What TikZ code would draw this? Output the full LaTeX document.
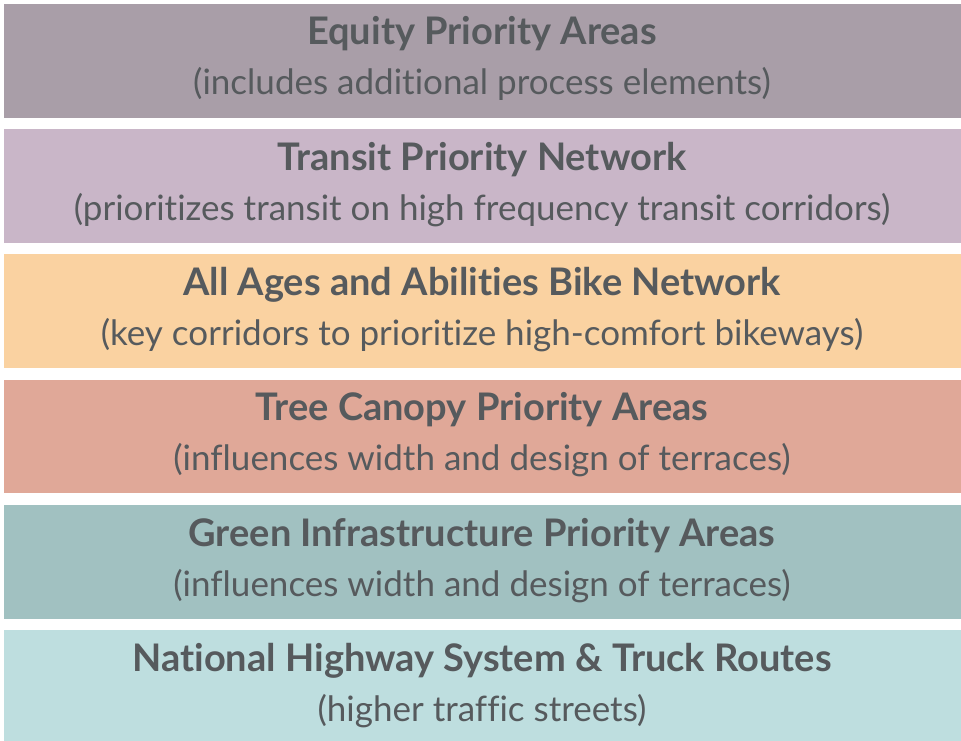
\documentclass[tikz,border=0pt]{standalone}
\usepackage{fontspec}
\setmainfont{Lato}[Ligatures=CommonOff]
\usepackage{xcolor}
\definecolor{txtgray}{HTML}{565A5D}
\definecolor{equitycol}{HTML}{A99EA8}
\definecolor{transitcol}{HTML}{C9B6C8}
\definecolor{bikecol}{HTML}{FAD2A1}
\definecolor{treecol}{HTML}{E0A898}
\definecolor{greencol}{HTML}{A1C1C1}
\definecolor{truckcol}{HTML}{BEDEDF}
\tikzset{
  band/.style={draw=none, fill=#1, minimum width=957pt, minimum height=113.7pt, inner sep=0pt, anchor=north west},
  headtext/.style={anchor=base, inner sep=0.75pt, text=txtgray, font=\fontsize{38}{44}\selectfont\bfseries},
  subtext/.style={anchor=base, inner sep=0.75pt, text=txtgray, font=\fontsize{35}{40}\selectfont}
}

\begin{document}
\begin{tikzpicture}[x=1pt,y=1pt,yscale=-1]
        \useasboundingbox (0,0) rectangle (961,741);

        %Shape: Rectangle [id:equity]
        \node [band=equitycol] (equity) at (4,4) {};
        %Shape: Rectangle [id:transit]
        \node [band=transitcol] (transit) at (4,129) {};
        %Shape: Rectangle [id:bike]
        \node [band=bikecol] (bike) at (4,254) {};
        %Shape: Rectangle [id:tree]
        \node [band=treecol] (tree) at (4,379.3) {};
        %Shape: Rectangle [id:green]
        \node [band=greencol] (green) at (4,505) {};
        %Shape: Rectangle [id:truck]
        \node [band=truckcol, minimum height=111pt] (truck) at (4,630) {};

        % Text Node
        \node [headtext] (equityhead) at (482,45) {Equity Priority Areas};
        % Text Node
        \node [subtext] (equitysub) at (482,95) {(includes additional process elements)};
        % Text Node
        \node [headtext] (transithead) at (482,170) {Transit Priority Network};
        % Text Node
        \node [subtext] (transitsub) at (482,220) {(prioritizes transit on high frequency transit corridors)};
        % Text Node
        \node [headtext] (bikehead) at (482,295) {All Ages and Abilities Bike Network};
        % Text Node
        \node [subtext] (bikesub) at (482,345) {(key corridors to prioritize high-comfort bikeways)};
        % Text Node
        \node [headtext] (treehead) at (482,420.3) {Tree Canopy Priority Areas};
        % Text Node
        \node [subtext] (treesub) at (482,470.3) {(influences width and design of terraces)};
        % Text Node
        \node [headtext] (greenhead) at (482,546) {Green Infrastructure Priority Areas};
        % Text Node
        \node [subtext] (greensub) at (482,596) {(influences width and design of terraces)};
        % Text Node
        \node [headtext] (truckhead) at (482,671) {National Highway System \& Truck Routes};
        % Text Node
        \node [subtext] (trucksub) at (482,721) {(higher traffic streets)};

\end{tikzpicture}
\end{document}
